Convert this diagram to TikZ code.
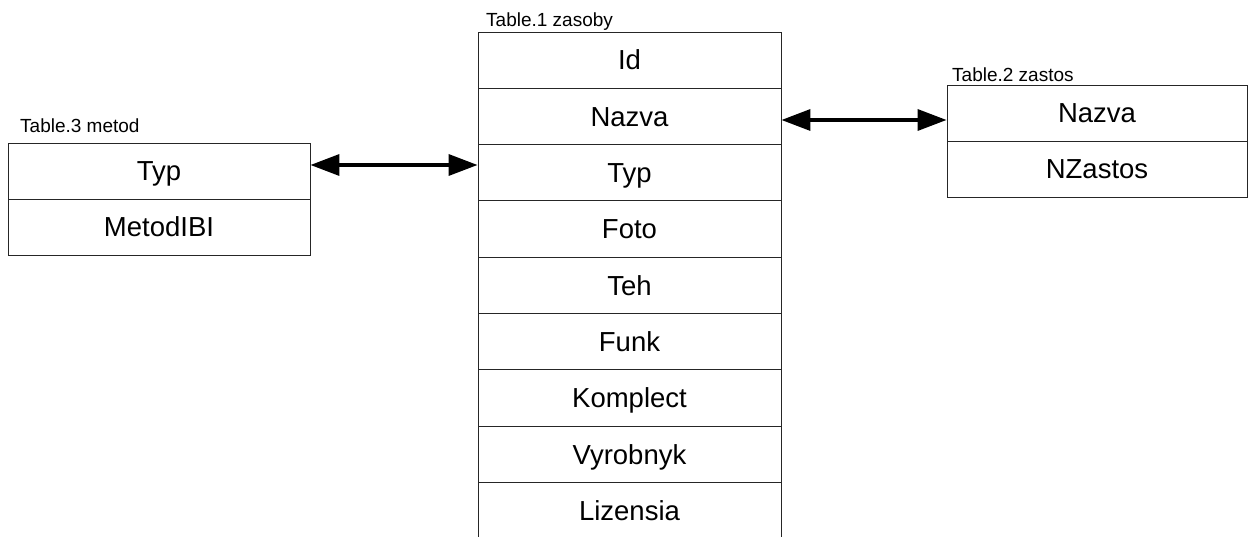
\documentclass[tikz,border=0pt]{standalone}
\usepackage{fontspec}
\setmainfont{Liberation Sans}
\usetikzlibrary{arrows.meta}
\begin{document}
\begin{tikzpicture}[x=1pt,y=-1pt,
  rowbox/.style={draw=black!85, line width=0.9pt, inner sep=0pt,
    minimum height=56.3pt, text height=19.5pt, text depth=0pt,
    font=\fontsize{27.5}{30}\selectfont},
  r1/.style={rowbox, minimum width=303pt},
  r2/.style={rowbox, minimum width=300pt, minimum height=56pt},
  r3/.style={rowbox, minimum width=302pt, minimum height=56pt},
  tlabel/.style={anchor=base west, inner sep=0pt, font=\fontsize{19}{21}\selectfont},
  biarrow/.style={line width=3.5pt, {Triangle[length=29pt,width=21pt]}-{Triangle[length=29pt,width=21pt]}}
]
\useasboundingbox (0,0) rectangle (1256,537);
% Table 1
\node[tlabel] (l1) at (486,26.5) {Table.1 zasoby};
\node[r1] (t1a) at (629.5,60.15) {Id};
\node[r1] (t1b) at (629.5,116.45) {Nazva};
\node[r1] (t1c) at (629.5,172.75) {Typ};
\node[r1] (t1d) at (629.5,229.05) {Foto};
\node[r1] (t1e) at (629.5,285.35) {Teh};
\node[r1] (t1f) at (629.5,341.65) {Funk};
\node[r1] (t1g) at (629.5,397.95) {Komplect};
\node[r1] (t1h) at (629.5,454.25) {Vyrobnyk};
\node[r1] (t1i) at (629.5,510.55) {Lizensia};
% Table 3
\node[tlabel] (l3) at (20,133) {Table.3 metod};
\node[r3] (t3a) at (159,171) {Typ};
\node[r3] (t3b) at (159,227) {MetodIBI};
% Table 2
\node[tlabel] (l2) at (952,82) {Table.2 zastos};
\node[r2] (t2a) at (1097,113) {Nazva};
\node[r2] (t2b) at (1097,169) {NZastos};
% arrows
\draw[biarrow] (t3a.east |- 0,165) -- (t1c.west |- 0,165);
\draw[biarrow] (t1b.east |- 0,120) -- (t2a.west |- 0,120);
\end{tikzpicture}
\end{document}
